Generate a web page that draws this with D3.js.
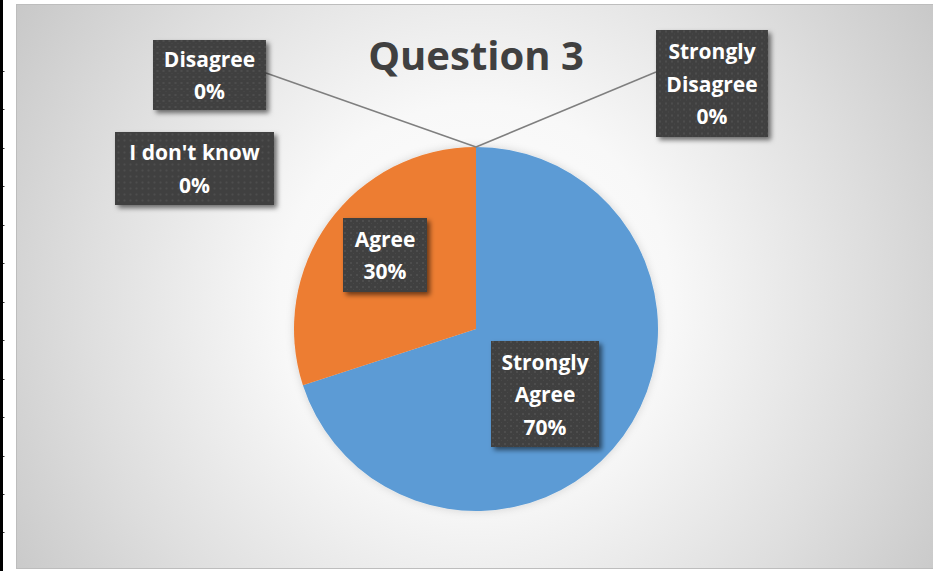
<!DOCTYPE html>
<html>
<head>
<meta charset="utf-8">
<script src="https://cdn.jsdelivr.net/npm/d3@7"></script>
<style>
  html, body { margin: 0; padding: 0; background: #ffffff; }
  svg { display: block; }
  text { font-family: "Open Sans", "Noto Sans", sans-serif; font-weight: 700; }
</style>
</head>
<body>
<svg id="chart" width="933" height="571"></svg>
<script>
// ---- data ----
const title = "Question 3";
const categories = ["Strongly Agree", "Agree", "Disagree", "Strongly Disagree", "I don't know"];
const labelLines = [["Strongly", "Agree"], ["Agree"], ["Disagree"], ["Strongly", "Disagree"], ["I don't know"]];
const values = [70, 30, 0, 0, 0];
const colors = ["#5B9BD5", "#ED7D31", "#A5A5A5", "#FFC000", "#4472C4"];

// ---- layout (not data) ----
const W = 933, H = 571;
const cx = 476, cy = 329, R = 182;
// label box centre offsets from pie centre, box sizes, leader attach
const labelLayout = [
  { dx: 69,     dy: 65,     w: 108, h: 106, leader: null },
  { dx: -91,    dy: -74,    w: 84,  h: 74,  leader: null },
  { dx: -266.5, dy: -254,   w: 113, h: 70,  leader: { side: "right", oy: -2 } },
  { dx: 236,    dy: -245.5, w: 112, h: 107, leader: { side: "left", oy: -11.5 } },
  { dx: -281.5, dy: -160.5, w: 159, h: 73,  leader: null }
];

const svg = d3.select("#chart");
const defs = svg.append("defs");

// background radial gradient
const bg = defs.append("radialGradient").attr("id", "bgGrad")
  .attr("gradientUnits", "userSpaceOnUse")
  .attr("cx", 476).attr("cy", 300).attr("r", 560);
bg.append("stop").attr("offset", "0%").attr("stop-color", "#ffffff");
bg.append("stop").attr("offset", "35%").attr("stop-color", "#f8f8f8");
bg.append("stop").attr("offset", "70%").attr("stop-color", "#dedede");
bg.append("stop").attr("offset", "100%").attr("stop-color", "#c6c6c6");

// dotted dark pattern for data label boxes
const pat = defs.append("pattern").attr("id", "dots")
  .attr("patternUnits", "userSpaceOnUse").attr("width", 6).attr("height", 6);
pat.append("rect").attr("width", 6).attr("height", 6).attr("fill", "#3f3f3f");
pat.append("rect").attr("x", 1).attr("y", 1).attr("width", 2).attr("height", 2).attr("fill", "#4d4d4d");
pat.append("rect").attr("x", 4).attr("y", 4).attr("width", 1).attr("height", 1).attr("fill", "#484848");

// shadows
const sh = defs.append("filter").attr("id", "boxShadow")
  .attr("x", "-20%").attr("y", "-20%").attr("width", "150%").attr("height", "150%");
sh.append("feDropShadow").attr("dx", 3).attr("dy", 3).attr("stdDeviation", 2.5)
  .attr("flood-color", "#000").attr("flood-opacity", 0.55);
const psh = defs.append("filter").attr("id", "pieShadow")
  .attr("x", "-20%").attr("y", "-20%").attr("width", "140%").attr("height", "140%");
psh.append("feDropShadow").attr("dx", 0).attr("dy", 0).attr("stdDeviation", 4)
  .attr("flood-color", "#000").attr("flood-opacity", 0.15);

// page decorations (left black bar with ruler ticks)
svg.append("rect").attr("x", 0).attr("y", 0).attr("width", W).attr("height", H).attr("fill", "#ffffff");
svg.append("rect").attr("x", 0).attr("y", 0).attr("width", 3).attr("height", H).attr("fill", "#000");
const tickYs = d3.range(71, H, 38.45);
svg.selectAll("rect.rtick").data(tickYs).join("rect").attr("class", "rtick")
  .attr("x", 3).attr("y", d => Math.round(d)).attr("width", 1.5).attr("height", 1).attr("fill", "#333");

// chart area
svg.append("rect").attr("x", 16.5).attr("y", 4.5).attr("width", W - 16).attr("height", 564)
  .attr("fill", "url(#bgGrad)").attr("stroke", "#bdbdbd").attr("stroke-width", 1);

// title
svg.append("text").attr("x", cx).attr("y", 70).attr("text-anchor", "middle")
  .attr("fill", "#404040").style("font-size", "40px").text(title);

// pie
const data = categories.map((c, i) => ({ cat: c, value: values[i], i }));
const pie = d3.pie().value(d => d.value).sort(null);
const arc = d3.arc().innerRadius(0).outerRadius(R);
const arcs = pie(data);
const g = svg.append("g").attr("transform", `translate(${cx},${cy})`);
g.append("g").attr("filter", "url(#pieShadow)")
  .selectAll("path").data(arcs.filter(a => a.data.value > 0)).join("path")
  .attr("d", arc).attr("fill", d => colors[d.data.i]);

// leader lines for zero slices
arcs.forEach(a => {
  const L = labelLayout[a.data.i];
  if (!L.leader) return;
  const ang = a.startAngle;
  const px = Math.sin(ang) * R, py = -Math.cos(ang) * R;
  const bx = L.leader.side === "right" ? L.dx + L.w / 2 : L.dx - L.w / 2;
  const by = L.dy + L.leader.oy;
  g.append("line").attr("x1", bx).attr("y1", by).attr("x2", px).attr("y2", py)
    .attr("stroke", "#7f7f7f").attr("stroke-width", 1.5);
});

// data labels
const fmt = d3.format(".0%");
const total = d3.sum(values);
arcs.forEach(a => {
  const i = a.data.i, L = labelLayout[i];
  const lines = labelLines[i].concat([fmt(a.data.value / total)]);
  const lg = g.append("g").attr("transform", `translate(${L.dx},${L.dy})`);
  lg.append("rect").attr("x", -L.w / 2).attr("y", -L.h / 2).attr("width", L.w).attr("height", L.h)
    .attr("fill", "url(#dots)").attr("filter", "url(#boxShadow)");
  const n = lines.length, lh = 32.5;
  lines.forEach((t, k) => {
    lg.append("text").attr("x", 0).attr("y", (k - (n - 1) / 2) * lh + 8)
      .attr("text-anchor", "middle").attr("fill", "#ffffff")
      .style("font-size", "21px").text(t);
  });
});
</script>
</body>
</html>
